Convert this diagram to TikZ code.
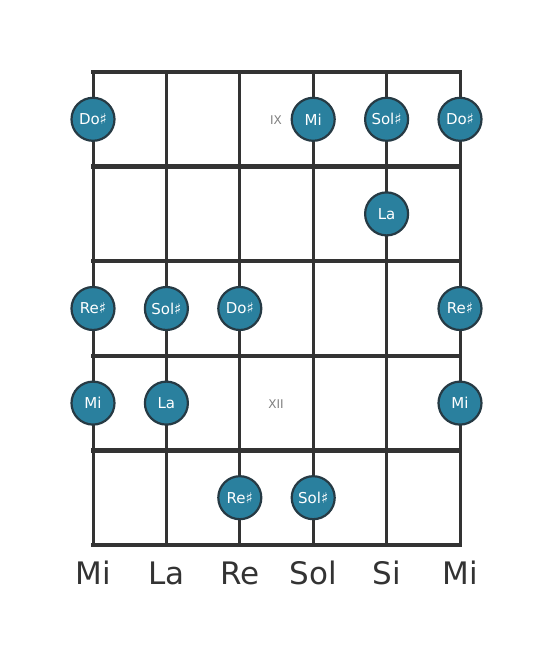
\documentclass[tikz,border=0pt]{standalone}
\usepackage{fontspec}
\setmainfont{DejaVu Sans}
\definecolor{notefill}{HTML}{2A809E}
\definecolor{noteedge}{HTML}{263A44}
\definecolor{linec}{HTML}{333333}
\begin{document}
\begin{tikzpicture}[x=1pt,y=-1pt,
  stringline/.style={draw=linec,line width=3pt},
  fretline/.style={draw=linec,line width=4.5pt},
  note/.style={circle,fill=notefill,draw=noteedge,line width=2.2pt,minimum size=43pt,inner sep=0pt,text=white,font=\fontsize{15}{17}\selectfont},
  strname/.style={text=linec,font=\fontsize{31}{34}\selectfont,anchor=base},
  fretnum/.style={text=gray,font=\fontsize{12}{13}\selectfont}]
\useasboundingbox (0,0) rectangle (553,656);
% strings
\foreach \i/\x in {1/93,2/166.4,3/239.8,4/313.2,5/386.6,6/460}{
  \coordinate (s\i t) at (\x,72);
  \coordinate (s\i b) at (\x,545);
  \draw[stringline] (s\i t) -- (s\i b);
}
% frets
\foreach \j/\y in {0/72,1/166.6,2/261.2,3/355.8,4/450.4,5/545}{
  \coordinate (f\j l) at (93,\y);
  \coordinate (f\j r) at (460,\y);
  \draw[fretline,line cap=rect] (f\j l) -- (f\j r);
}
% fret numbers
\node[fretnum] (nIX) at (276,120) {IX};
\node[fretnum] (nXII) at (276,404) {XII};
% notes
\node[note] (a1) at (93,119.3) {Do♯};
\node[note] (a4) at (313.2,119.3) {Mi};
\node[note] (a5) at (386.6,119.3) {Sol♯};
\node[note] (a6) at (460,119.3) {Do♯};
\node[note] (b5) at (386.6,213.9) {La};
\node[note] (c1) at (93,308.5) {Re♯};
\node[note] (c2) at (166.4,308.5) {Sol♯};
\node[note] (c3) at (239.8,308.5) {Do♯};
\node[note] (c6) at (460,308.5) {Re♯};
\node[note] (d1) at (93,403.1) {Mi};
\node[note] (d2) at (166.4,403.1) {La};
\node[note] (d6) at (460,403.1) {Mi};
\node[note] (e3) at (239.8,497.7) {Re♯};
\node[note] (e4) at (313.2,497.7) {Sol♯};
% string names
\node[strname] (l1) at (93,584) {Mi};
\node[strname] (l2) at (166.4,584) {La};
\node[strname] (l3) at (239.8,584) {Re};
\node[strname] (l4) at (313.2,584) {Sol};
\node[strname] (l5) at (386.6,584) {Si};
\node[strname] (l6) at (460,584) {Mi};
\end{tikzpicture}
\end{document}
